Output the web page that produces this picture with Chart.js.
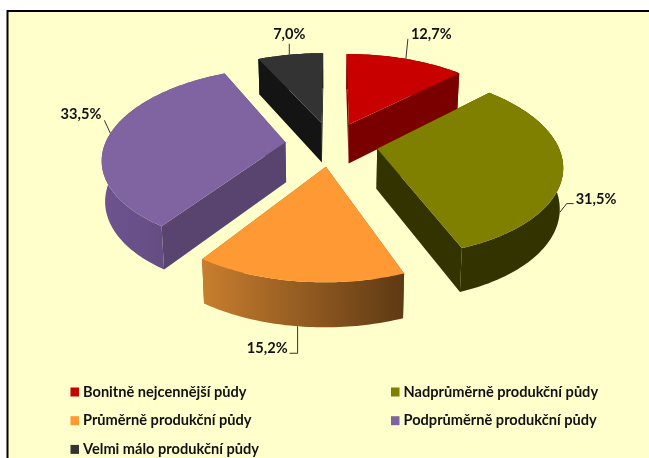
<!DOCTYPE html>
<html>
<head>
<meta charset="utf-8">
<style>
  html, body { margin: 0; padding: 0; background: #fff; overflow: hidden; }
  canvas { display: block; }
</style>
<script src="https://cdn.jsdelivr.net/npm/chart.js@4"></script>
</head>
<body>
<canvas id="chart" width="649" height="458"></canvas>
<script>
// Data
const categories = [
    'Bonitně nejcennější půdy',
    'Nadprůměrně produkční půdy',
    'Průměrně produkční půdy',
    'Podprůměrně produkční půdy',
    'Velmi málo produkční půdy'
];
const shares = [12.7, 31.5, 15.2, 33.5, 7.0];

// Colours per slice: top face, radial wall, outer rim (left and right end of the gradient)
const sliceTop = ['#C80000', '#808000', '#FF9933', '#8064A2', '#333333'];
const sliceWall = ['#7A0000', '#333300', '#8A5820', '#58446E', '#141414'];
const rimLeft = ['#7A0000', '#333300', '#C87E2E', '#6E5490', '#141414'];
const rimRight = ['#7A0000', '#333300', '#5E3914', '#5C4676', '#141414'];

// Leader lines: rim angle in degrees (clockwise from top), whether it starts at the lower edge,
// then bend offsets from that point, and where the text sits relative to the last bend
const leaderAngle = [23, 104, 187, 276, 347];
const leaderBottom = [false, true, true, false, false];
const leaderBends = [
    [[2, -20]],
    [[7, -9], [14, -9]],
    [[0, 27], [-8, 27]],
    [[-6, -13]],
    [[0, -11]]
];
const labelOffset = [[3, -5], [2, -4], [-2, -5], [-3, -6], [0, -9]];
const labelAlign = ['left', 'left', 'right', 'right', 'center'];

// Fake 3D view: perspective projection of the flat pie
const view = { cx: 331.5, cy: 144, sx: 180.4, sy: 88, persp: 0.165, explodeX: 0.257, explodeY: 0.25, depth: 40, tilt: 0.985 };

function project(x, y, bottom) {
    const w = 1 + view.persp * y;
    const px = view.sx * x / w;
    const py = view.sy * y / w;
    if (!bottom) return [view.cx + px, view.cy - py];
    return [view.cx + px * view.tilt, view.cy - py + view.depth - 4 * y];
}

// Point on a slice: t is the angle clockwise from top, r the radius (0 = apex)
function slicePoint(mid, t, r, bottom) {
    const x = view.explodeX * Math.sin(mid) + r * Math.sin(t);
    const y = view.explodeY * Math.cos(mid) + r * Math.cos(t);
    return project(x, y, bottom);
}

function tracePoly(ctx, pts) {
    ctx.beginPath();
    pts.forEach((p, i) => i ? ctx.lineTo(p[0], p[1]) : ctx.moveTo(p[0], p[1]));
    ctx.closePath();
}

const pie3d = {
    id: 'pie3d',
    beforeDraw(chart) {
        const ctx = chart.ctx;
        ctx.save();
        ctx.fillStyle = '#fff';
        ctx.fillRect(0, 0, chart.width, chart.height);
        ctx.fillStyle = '#FFFFCC';
        ctx.strokeStyle = '#000';
        ctx.lineWidth = 2;
        ctx.fillRect(7.5, 11, chart.width, chart.height);
        ctx.strokeRect(7.5, 11, chart.width + 20, chart.height + 20);
        ctx.restore();
    },
    beforeDatasetDraw(chart) {
        const ctx = chart.ctx;
        const arcs = chart.getDatasetMeta(0).data;
        const slices = arcs.map((arc, i) => {
            const start = arc.startAngle + Math.PI / 2;
            const end = arc.endAngle + Math.PI / 2;
            return { i, start, end, mid: (start + end) / 2 };
        });
        // back to front
        slices.sort((a, b) => Math.cos(b.mid) - Math.cos(a.mid));

        ctx.save();
        slices.forEach(s => {
            const top = [], low = [];
            const steps = Math.ceil((s.end - s.start) / 0.02);
            for (let k = 0; k <= steps; k++) {
                const t = s.start + (s.end - s.start) * k / steps;
                top.push(slicePoint(s.mid, t, 1, false));
                low.push(slicePoint(s.mid, t, 1, true));
            }
            const apexTop = slicePoint(s.mid, 0, 0, false);
            const apexLow = slicePoint(s.mid, 0, 0, true);

            // radial walls
            ctx.fillStyle = sliceWall[s.i];
            tracePoly(ctx, [apexTop, top[0], low[0], apexLow]);
            ctx.fill();
            tracePoly(ctx, [apexTop, top[steps], low[steps], apexLow]);
            ctx.fill();

            // outer rim
            const xs = top.map(p => p[0]);
            const grad = ctx.createLinearGradient(Math.min(...xs), 0, Math.max(...xs), 0);
            grad.addColorStop(0, rimLeft[s.i]);
            grad.addColorStop(1, rimRight[s.i]);
            ctx.fillStyle = grad;
            tracePoly(ctx, top.concat(low.slice().reverse()));
            ctx.fill();

            // top face
            ctx.fillStyle = sliceTop[s.i];
            tracePoly(ctx, [apexTop].concat(top));
            ctx.fill();
        });

        // leader lines and percent labels
        ctx.strokeStyle = '#333';
        ctx.lineWidth = 1;
        ctx.fillStyle = '#111';
        ctx.font = 'bold 14.6px Lato';
        ctx.textBaseline = 'middle';
        slices.forEach(s => {
            const a = leaderAngle[s.i] * Math.PI / 180;
            const from = slicePoint(s.mid, a, 1, leaderBottom[s.i]);
            ctx.beginPath();
            ctx.moveTo(from[0], from[1]);
            let last = from;
            leaderBends[s.i].forEach(b => {
                last = [from[0] + b[0], from[1] + b[1]];
                ctx.lineTo(last[0], last[1]);
            });
            ctx.stroke();
            ctx.textAlign = labelAlign[s.i];
            ctx.fillText(shares[s.i].toFixed(1).replace('.', ',') + '%',
                last[0] + labelOffset[s.i][0], last[1] + labelOffset[s.i][1]);
        });

        // two-column legend
        ctx.textAlign = 'left';
        categories.forEach((name, i) => {
            const col = i % 2, row = Math.floor(i / 2);
            const x = col ? 391 : 70.5, y = 392 + row * 28.7;
            ctx.fillStyle = sliceTop[i];
            ctx.fillRect(x, y - 4.5, 8.5, 9);
            ctx.fillStyle = '#111';
            ctx.fillText(name, x + 12.5, y);
        });
        ctx.restore();
        return false;
    }
};

new Chart(document.getElementById('chart'), {
    type: 'pie',
    data: {
        labels: categories,
        datasets: [{ data: shares, backgroundColor: sliceTop, borderWidth: 0 }]
    },
    options: {
        responsive: false,
        animation: false,
        plugins: {
            legend: { display: false },
            tooltip: { enabled: false }
        }
    },
    plugins: [pie3d]
});
</script>
</body>
</html>
